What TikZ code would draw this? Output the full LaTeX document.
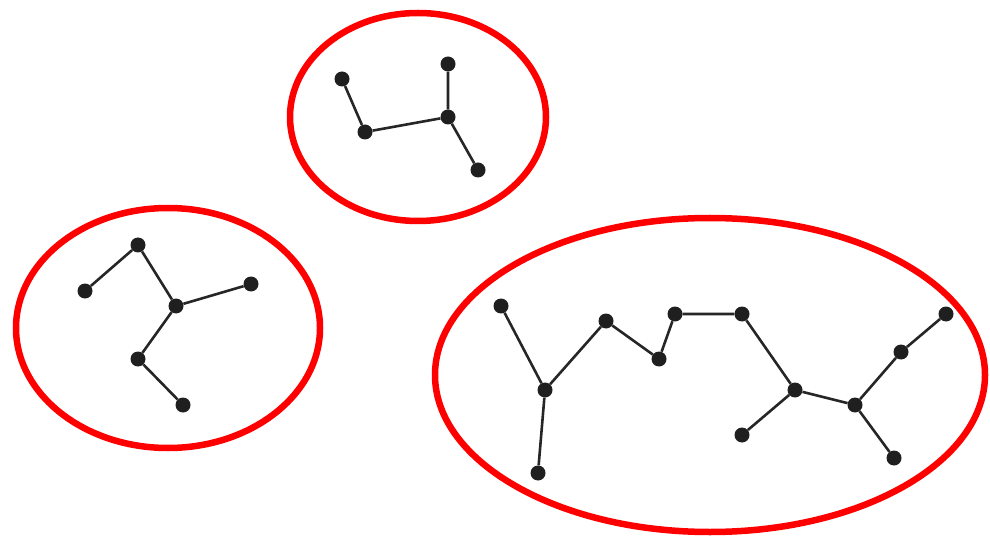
\documentclass[tikz,border=0pt]{standalone}
\begin{document}
\begin{tikzpicture}[x=1pt,y=-1pt,
  dot/.style={circle,fill=black!88,inner sep=0pt,minimum size=15pt},
  edge/.style={draw=black!85,line width=2.6pt},
  ring/.style={draw=red,line width=6.5pt}]
\useasboundingbox (0,0) rectangle (990,537);
\draw[ring] (418,117) ellipse [x radius=128, y radius=104];
\draw[ring] (168,328) ellipse [x radius=152, y radius=120];
\draw[ring] (710,375) ellipse [x radius=275, y radius=157];
% top
\node[dot] (a) at (342,79) {};
\node[dot] (b) at (365,132) {};
\node[dot] (c) at (448,117) {};
\node[dot] (d) at (448,64) {};
\node[dot] (e) at (478,170) {};
% left
\node[dot] (f) at (85,291) {};
\node[dot] (g) at (138,245) {};
\node[dot] (h) at (176,306) {};
\node[dot] (i) at (251,284) {};
\node[dot] (j) at (138,359) {};
\node[dot] (k) at (183,405) {};
% right
\node[dot] (l) at (501,306) {};
\node[dot] (m) at (545,390) {};
\node[dot] (n) at (538,473) {};
\node[dot] (o) at (606,321) {};
\node[dot] (p) at (659,359) {};
\node[dot] (q) at (675,314) {};
\node[dot] (r) at (742,314) {};
\node[dot] (s) at (795,390) {};
\node[dot] (t) at (742,435) {};
\node[dot] (u) at (855,405) {};
\node[dot] (v) at (901,352) {};
\node[dot] (w) at (946,314) {};
\node[dot] (x) at (894,458) {};
\path[edge] (a)--(b) (b)--(c) (c)--(d) (c)--(e);
\path[edge] (f)--(g) (g)--(h) (h)--(i) (h)--(j) (j)--(k);
\path[edge] (l)--(m) (m)--(n) (m)--(o) (o)--(p) (p)--(q) (q)--(r) (r)--(s)
  (s)--(t) (s)--(u) (u)--(v) (v)--(w) (u)--(x);
\end{tikzpicture}
\end{document}
